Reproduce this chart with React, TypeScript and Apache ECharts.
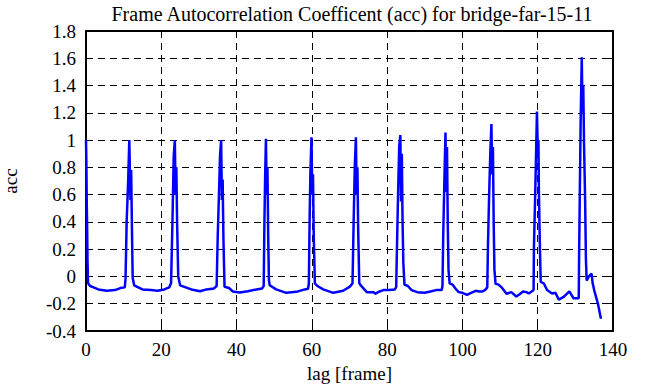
import React, { useEffect, useRef } from "react";
import * as echarts from "echarts";

const titleText = "Frame Autocorrelation Coefficent (acc) for bridge-far-15-11";
const xName = "lag [frame]";
const yName = "acc";

const xTicks = [0, 20, 40, 60, 80, 100, 120, 140];
const yTicks = [-0.4, -0.2, 0, 0.2, 0.4, 0.6, 0.8, 1, 1.2, 1.4, 1.6, 1.8];

const lags = [
  0, 0.1, 0.2, 0.3, 0.4, 0.55, 1.1, 2, 3.3, 5.5, 7.7, 9.1, 10.3,
  10.5, 10.8, 11.2, 11.5, 11.8, 12.0, 12.2, 12.4, 12.8, 15, 17.3, 19, 20.8, 22.1,
  22.6, 23.0, 23.3, 23.6, 23.8, 24.0, 24.2, 24.5, 25, 26.5, 28, 30.3, 32, 34,
  34.7, 35.0, 35.3, 35.6, 35.9, 36.1, 36.3, 36.5, 36.8, 38, 39, 40.8, 43, 45.3, 46.8,
  47.2, 47.4, 47.6, 47.8, 48.0, 48.2, 48.4, 48.6, 48.8, 50.5, 53.2, 55.9, 58.1, 59,
  59.2, 59.4, 59.6, 59.9, 60.1, 60.3, 60.5, 60.8, 61.5, 63, 65.7, 68.3, 70.1,
  70.8, 71.1, 71.4, 71.7, 71.9, 72.1, 72.3, 72.6, 73, 74.6, 76.4, 76.8, 78, 79, 80.5, 82,
  82.4, 82.6, 82.9, 83.2, 83.5, 83.7, 83.9, 84.1, 84.3, 84.6, 85.5, 86.5, 88, 90, 91.5, 93, 94.5,
  94.7, 94.9, 95.2, 95.5, 95.7, 95.9, 96.1, 96.3, 96.6, 97.4, 98.2, 99, 100, 101.2, 102.3, 103.5, 104.5, 105.3, 106,
  106.6, 106.8, 107.1, 107.4, 107.7, 107.9, 108.1, 108.3, 108.5, 108.8, 109.6, 110.4, 111.7, 113, 114.3, 115.2, 116.1, 117, 117.6, 118.4,
  118.9, 119.0, 119.3, 119.6, 119.8, 120.0, 120.2, 120.3, 120.5, 120.6, 120.8, 121.6, 122.5, 123.8, 124.7, 125.6, 126.9, 128.4, 129.5, 130.7,
  130.9, 131.0, 131.2, 131.4, 131.7, 131.9, 132.1, 132.3, 132.6, 132.8, 133.0, 133.6, 134.3, 134.6, 135.0, 136.0, 136.8,
];

const acc = [
  1.0, 0.83, 0.54, 0.36, 0.12, -0.05, -0.07, -0.08, -0.095, -0.105, -0.1, -0.085, -0.08,
  -0.02, 0.4, 0.7, 1.0, 0.56, 0.78, 0.36, -0.01, -0.065, -0.095, -0.1, -0.105, -0.095, -0.08,
  -0.05, 0.45, 0.88, 1.0, 0.6, 0.8, 0.4, 0.0, -0.065, -0.08, -0.095, -0.108, -0.095, -0.088,
  -0.07, 0.3, 0.58, 0.88, 1.0, 0.56, 0.71, 0.29, -0.076, -0.085, -0.11, -0.117, -0.108, -0.095, -0.088,
  -0.07, 0.4, 0.75, 1.01, 0.6, 0.8, 0.3, -0.03, -0.064, -0.095, -0.12, -0.113, -0.095, -0.09,
  -0.05, 0.4, 0.75, 1.02, 0.6, 0.75, 0.3, -0.05, -0.07, -0.095, -0.12, -0.105, -0.075,
  -0.05, 0.4, 0.8, 1.02, 0.6, 0.8, 0.35, -0.05, -0.066, -0.115, -0.115, -0.127, -0.11, -0.1, -0.1, -0.095,
  -0.08, 0.2, 0.6, 0.95, 1.037, 0.55, 0.9, 0.4, 0.1, -0.06, -0.07, -0.1, -0.115, -0.12, -0.11, -0.1, -0.1,
  -0.07, 0.3, 0.7, 1.056, 0.62, 0.95, 0.4, 0.05, -0.05, -0.06, -0.09, -0.115, -0.12, -0.135, -0.12, -0.105, -0.11, -0.11, -0.1,
  -0.08, 0.25, 0.6, 0.9, 1.118, 0.75, 0.95, 0.4, 0.05, -0.054, -0.06, -0.08, -0.127, -0.115, -0.147, -0.13, -0.11, -0.115, -0.125, -0.11,
  -0.1, 0.22, 0.56, 0.95, 1.21, 0.93, 1.0, 0.66, 0.33, 0.19, -0.04, -0.05, -0.1, -0.125, -0.12, -0.17, -0.15, -0.11, -0.16, -0.16,
  -0.16, 0.17, 0.65, 1.12, 1.607, 1.2, 1.4, 0.98, 0.55, 0.13, -0.03, 0.0, 0.02, -0.05, -0.1, -0.2, -0.31,
];

const FONT = "Liberation Serif";
const FS = 19;

export default function App() {
  const ref = useRef<HTMLDivElement>(null);
  useEffect(() => {
    if (!ref.current) return;
    const chart = echarts.init(ref.current, undefined, { renderer: "svg" });
    const points = lags.map((x, i) => [x, acc[i]]);
    const dash = [7, 5];
    const xMin = xTicks[0];
    const xMax = xTicks[xTicks.length - 1];
    const yMin = yTicks[0];
    const yMax = yTicks[yTicks.length - 1];
    const axisLine = { show: true, onZero: false, lineStyle: { color: "#000", width: 2 } };
    const tick = { show: true, inside: true, length: 7, lineStyle: { color: "#000", width: 1 } };
    const txt = { fontFamily: FONT, fontSize: FS, color: "#000", fontWeight: "normal" };
    chart.setOption({
      animation: false,
      backgroundColor: "#fff",
      textStyle: { fontFamily: FONT, fontSize: FS, color: "#000" },
      title: {
        text: titleText,
        left: 347,
        textAlign: "center",
        top: -1,
        textStyle: { ...txt, fontSize: 20 },
      },
      grid: { left: 86, right: 43, top: 31, bottom: 56, containLabel: false, outerBoundsMode: "none" },
      xAxis: [
        {
          type: "value",
          min: xMin,
          max: xMax,
          interval: 20,
          position: "bottom",
          name: xName,
          nameLocation: "middle",
          nameGap: 31,
          nameTextStyle: { ...txt },
          axisLine,
          axisTick: tick,
          axisLabel: { ...txt, margin: 9 },
          splitLine: { show: true, lineStyle: { color: "#000", width: 1, type: dash } },
        },
        {
          type: "value",
          min: xMin,
          max: xMax,
          interval: 20,
          position: "top",
          axisLine,
          axisTick: tick,
          axisLabel: { show: false },
          splitLine: { show: false },
        },
      ],
      yAxis: [
        {
          type: "value",
          min: yMin,
          max: yMax,
          interval: 0.2,
          position: "left",
          name: yName,
          nameLocation: "middle",
          nameGap: 66,
          nameTextStyle: { ...txt },
          axisLine,
          axisTick: tick,
          axisLabel: {
            ...txt,
            margin: 10,
            formatter: (v: number) => String(Math.round(v * 10) / 10),
          },
          splitLine: { show: true, lineStyle: { color: "#000", width: 1, type: dash } },
        },
        {
          type: "value",
          min: yMin,
          max: yMax,
          interval: 0.2,
          position: "right",
          axisLine,
          axisTick: tick,
          axisLabel: { show: false },
          splitLine: { show: false },
        },
      ],
      series: [
        {
          type: "line",
          data: points,
          showSymbol: false,
          symbol: "none",
          lineStyle: { color: "#0000ff", width: 2.5 },
          clip: true,
        },
      ],
    });
    return () => chart.dispose();
  }, []);
  return (
    <div
      ref={ref}
      style={{ position: "fixed", left: 0, top: 0, width: 656, height: 387, background: "#fff" }}
    />
  );
}
